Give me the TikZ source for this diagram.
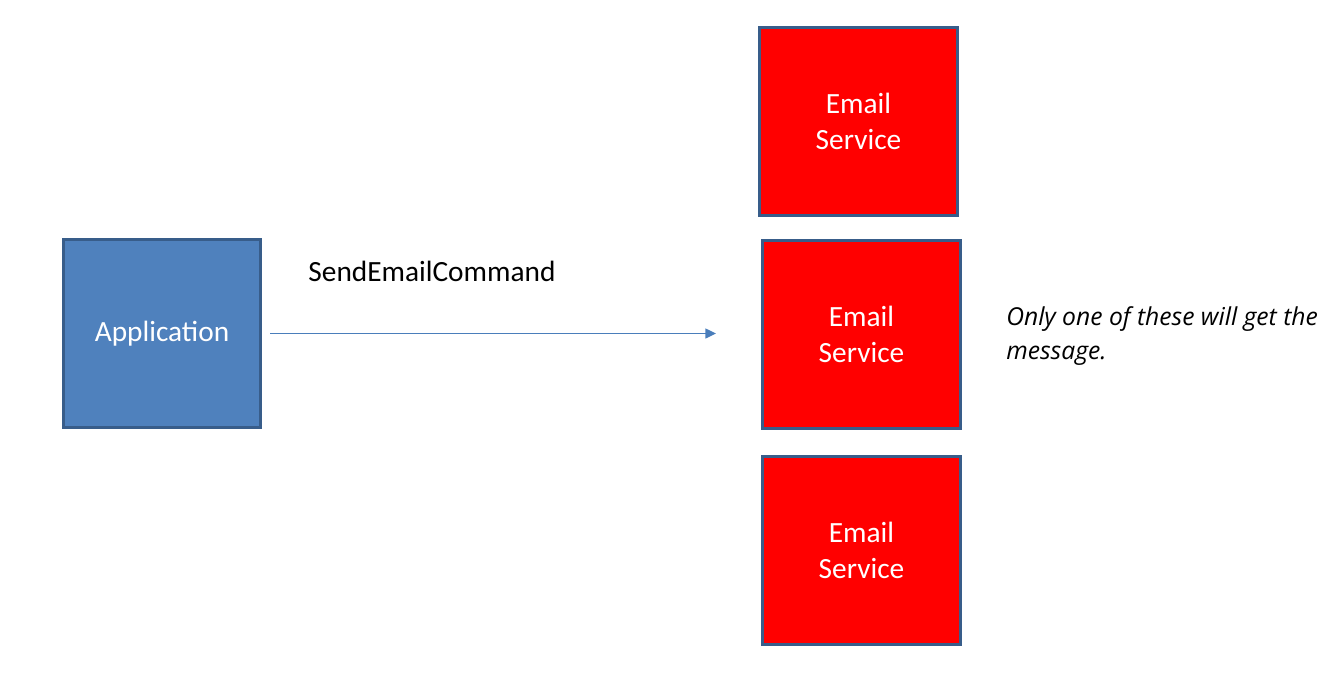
\documentclass[tikz,border=0pt]{standalone}
\usepackage{fontspec}
\setmainfont{Carlito}
\newfontfamily\notefont{Open Sans}
\usetikzlibrary{arrows.meta, positioning}

\definecolor{appblue}{HTML}{4F81BD}
\definecolor{edgeblue}{HTML}{385D8A}
\definecolor{arrowblue}{HTML}{4A7EBB}

\tikzset{
    box/.style={draw=edgeblue, line width=2.25pt, minimum width=148pt, minimum height=141pt, inner sep=0pt, text=white, align=center, font=\fontsize{22}{27}\selectfont},
    app/.style={box, fill=appblue},
    svc/.style={box, fill=red},
    flow/.style={draw=arrowblue, line width=1pt, -{Triangle[length=8pt,width=7.5pt]}}
}

\begin{document}
\begin{tikzpicture}[x=0.75pt, y=-0.75pt]
        \useasboundingbox (0,0) rectangle (1334,678);

        \node[app] (app) at (162,333.5) {Application};
        \node[svc] (svc1) at (858.5,121) {Email\\Service};
        \node[svc] (svc2) at (861.5,334) {Email\\Service};
        \node[svc] (svc3) at (861.5,550) {Email\\Service};

        \node[font=\fontsize{22}{27}\selectfont] (cmd) at (432,271) {SendEmailCommand};
        \node[anchor=west, align=left, inner sep=0pt, font=\notefont\fontsize{18.5}{25.5}\selectfont\itshape] (note) at (1006,336) {Only one of these will get the\\message.};

        \draw[flow, shorten <=6pt, shorten >=34pt] (app.east) -- (app.east -| svc2.west);
    \end{tikzpicture}
\end{document}
